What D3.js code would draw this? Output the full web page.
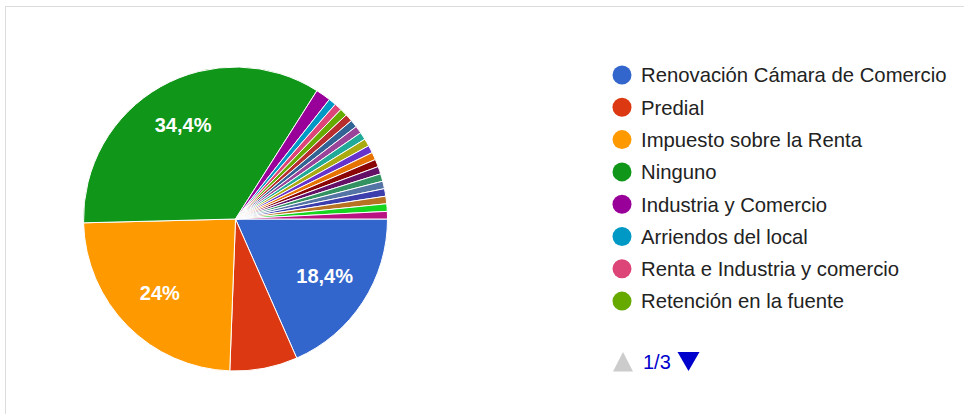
<!DOCTYPE html>
<html><head><meta charset="utf-8">
<script src="https://cdn.jsdelivr.net/npm/d3@7"></script>
<style>body{margin:0;background:#fff;}svg{display:block;font-family:"Liberation Sans",Arial,sans-serif;}</style>
</head><body>
<svg id="chart" width="964" height="414"></svg>
<script>
const categories = [
  "Renovación Cámara de Comercio", "Predial", "Impuesto sobre la Renta", "Ninguno",
  "Industria y Comercio", "Arriendos del local", "Renta e Industria y comercio", "Retención en la fuente",
  "Otro 9", "Otro 10", "Otro 11", "Otro 12", "Otro 13", "Otro 14", "Otro 15", "Otro 16",
  "Otro 17", "Otro 18", "Otro 19", "Otro 20", "Otro 21", "Otro 22", "Otro 23"
];
const counts = [23, 9, 30, 43, 2, 1, 1, 1, 1, 1, 1, 1, 1, 1, 1, 1, 1, 1, 1, 1, 1, 1, 1];
const colors = ["#3366cc","#dc3912","#ff9900","#109618","#990099","#0099c6","#dd4477","#66aa00",
  "#b82e2e","#316395","#994499","#22aa99","#aaaa11","#6633cc","#e67300","#8b0707",
  "#651067","#329262","#5574a6","#3b3eac","#b77322","#16d620","#b91383"];
const pageLabel = "1/3";
const perPage = 8;

const svg = d3.select("#chart");
// frame
svg.append("rect").attr("x", 5.5).attr("y", 6.5).attr("width", 1000).attr("height", 500)
  .attr("fill", "none").attr("stroke", "#dcdcdc").attr("stroke-width", 1);

const cx = 235.5, cy = 219, R = 152;
const total = d3.sum(counts);
const data = categories.map((c, i) => ({name: c, value: counts[i], color: colors[i]}));
const pie = d3.pie().value(d => d.value).sort(null)
  .startAngle(Math.PI / 2).endAngle(Math.PI / 2 + 2 * Math.PI);
const arcs = pie(data);
const arc = d3.arc().innerRadius(0).outerRadius(R);
const labelArc = d3.arc().innerRadius(R * 0.7).outerRadius(R * 0.7);

const g = svg.append("g").attr("transform", `translate(${cx},${cy})`);
g.selectAll("path").data(arcs).join("path")
  .attr("d", arc).attr("fill", d => d.data.color)
  .attr("stroke", "#fff").attr("stroke-width", 1);

const loc = d3.formatLocale({decimal: ",", thousands: ".", grouping: [3], currency: ["", "€"]});
const fmt = loc.format(".1~f");
g.selectAll("text.pct").data(arcs.filter(d => d.data.value / total >= 0.1)).join("text")
  .attr("class", "pct")
  .attr("transform", d => `translate(${labelArc.centroid(d)})`)
  .attr("text-anchor", "middle").attr("dy", "0.3em")
  .attr("fill", "#fff").attr("font-size", 20).attr("font-weight", "bold")
  .text(d => fmt(d.data.value / total * 100) + "%");

// legend
const lx = 622, ly0 = 75, lstep = 32.3;
const lg = svg.append("g");
const items = data.slice(0, perPage);
const row = lg.selectAll("g").data(items).join("g")
  .attr("transform", (d, i) => `translate(${lx},${ly0 + i * lstep})`);
row.append("circle").attr("r", 9.5).attr("fill", d => d.color);
row.append("text").attr("x", 19).attr("dy", "0.36em").attr("font-size", 20.3)
  .attr("fill", "#222").text(d => d.name);

// pagination
const py = 361.5;
svg.append("path").attr("d", `M613,${py + 10}L623,${py - 9.5}L633,${py + 10}Z`).attr("fill", "#cccccc");
svg.append("text").attr("x", 643).attr("y", py).attr("dy", "0.36em").attr("font-size", 20)
  .attr("fill", "#0000cc").text(pageLabel);
svg.append("path").attr("d", `M677.5,${py - 9.5}L699.5,${py - 9.5}L688.5,${py + 9.5}Z`).attr("fill", "#0000cc");
</script>
</body></html>
